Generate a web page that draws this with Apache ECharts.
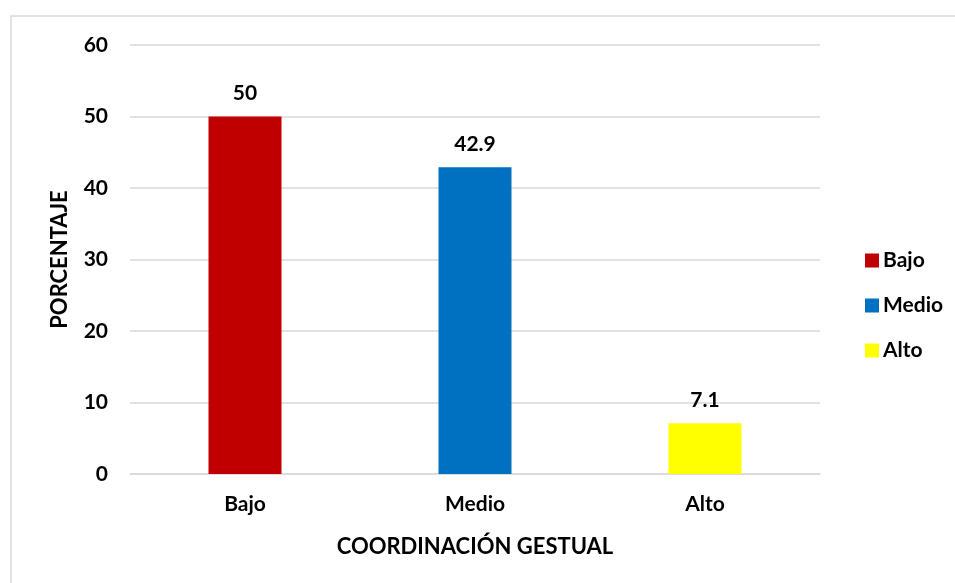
<!DOCTYPE html>
<html>
<head>
<meta charset="utf-8">
<script src="https://cdn.jsdelivr.net/npm/echarts@6/dist/echarts.min.js"></script>
<style>
  html, body { margin: 0; padding: 0; background: #fff; }
  #chart { width: 955px; height: 583px; }
</style>
</head>
<body>
<div id="chart"></div>
<script>
// datos del gráfico
const categorias = ['Bajo', 'Medio', 'Alto']
const porcentajes = [50, 42.9, 7.1]
const colores = ['#c00000', '#0070c0', '#ffff00']
const ticksY = [0, 10, 20, 30, 40, 50, 60]

const fuente = 'Lato, "Open Sans", sans-serif'
const chart = echarts.init(document.getElementById('chart'))

// una serie por categoría para que la leyenda muestre cada nivel
const series = categorias.map((nombre, i) => ({
  name: nombre,
  type: 'bar',
  stack: 'total',
  barWidth: 73,
  itemStyle: { color: colores[i] },
  label: {
    show: true,
    position: 'top',
    distance: 13,
    color: '#000',
    fontFamily: fuente,
    fontWeight: 'bold',
    fontSize: 21
  },
  data: categorias.map((c, j) => (j === i ? porcentajes[i] : '-'))
}))

const option = {
  animation: false,
  backgroundColor: '#fff',
  graphic: [{
    type: 'rect',
    shape: { x: 11, y: 16, width: 1200, height: 1000 },
    style: { fill: 'none', stroke: '#d9d9d9', lineWidth: 1.5 },
    silent: true
  }],
  grid: { left: 130, right: 135, top: 45, bottom: 109 },
  legend: {
    orient: 'vertical',
    left: 860,
    top: 245,
    itemWidth: 14,
    itemHeight: 14,
    itemGap: 24,
    icon: 'rect',
    textStyle: { color: '#000', fontFamily: fuente, fontWeight: 'bold', fontSize: 21, padding: [0, 0, 0, -1] },
    data: categorias
  },
  xAxis: {
    type: 'category',
    data: categorias,
    name: 'COORDINACIÓN GESTUAL',
    nameLocation: 'middle',
    nameGap: 62,
    nameTextStyle: { color: '#000', fontFamily: fuente, fontWeight: 'bold', fontSize: 22 },
    axisLine: { lineStyle: { color: '#d9d9d9', width: 1.5 } },
    axisTick: { show: false },
    axisLabel: { color: '#000', fontFamily: fuente, fontWeight: 'bold', fontSize: 21, margin: 20 }
  },
  yAxis: {
    type: 'value',
    min: ticksY[0],
    max: ticksY[ticksY.length - 1],
    interval: 10,
    name: 'PORCENTAJE',
    nameLocation: 'middle',
    nameGap: 59,
    nameTextStyle: { color: '#000', fontFamily: fuente, fontWeight: 'bold', fontSize: 22 },
    axisLine: { show: false },
    axisTick: { show: false },
    splitLine: { lineStyle: { color: '#d9d9d9', width: 1.5 } },
    axisLabel: { color: '#000', fontFamily: fuente, fontWeight: 'bold', fontSize: 21, margin: 22 }
  },
  series: series
}

chart.setOption(option)
</script>
</body>
</html>
